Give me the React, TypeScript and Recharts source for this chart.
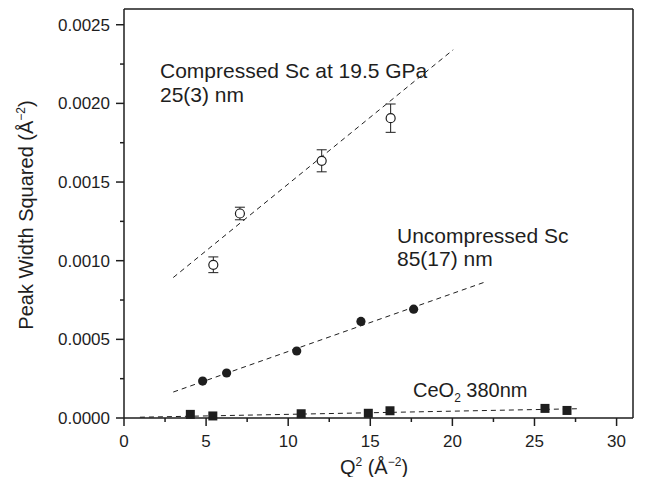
import {
  Customized,
  ErrorBar,
  ReferenceLine,
  Scatter,
  ScatterChart,
  XAxis,
  YAxis,
} from 'recharts';

const FONT = '"Liberation Sans", Arial, sans-serif';
const INK = '#1e1e1e';

// Q^2 (Å^-2) vs peak width squared (Å^-2)
const compressed = [
  { x: 5.44, y: 0.000974, err: 0.00005 },
  { x: 7.06, y: 0.0013, err: 0.00004 },
  { x: 12.04, y: 0.001635, err: 0.00007 },
  { x: 16.24, y: 0.001906, err: 0.00009 },
];

const uncompressed = [
  { x: 4.79, y: 0.000235 },
  { x: 6.25, y: 0.000286 },
  { x: 10.52, y: 0.000426 },
  { x: 14.43, y: 0.000614 },
  { x: 17.64, y: 0.000692 },
];

const ceo2 = [
  { x: 4.04, y: 0.000023 },
  { x: 5.41, y: 0.000013 },
  { x: 10.79, y: 0.000027 },
  { x: 14.88, y: 0.00003 },
  { x: 16.2, y: 0.000046 },
  { x: 25.64, y: 0.000061 },
  { x: 26.98, y: 0.000048 },
];

// fitted lines, end points
const compressedFit = [
  { x: 3.0, y: 0.000893 },
  { x: 20.05, y: 0.002341 },
];
const uncompressedFit = [
  { x: 3.0, y: 0.000165 },
  { x: 22.03, y: 0.000866 },
];
const ceo2Fit = [
  { x: 0.97, y: 0.000005 },
  { x: 27.7, y: 0.000059 },
];

const xDomain = [0, 31];
const yDomain = [0, 0.0026];
const xTicks = [0, 2.5, 5, 7.5, 10, 12.5, 15, 17.5, 20, 22.5, 25, 27.5, 30];
const yTicks = [
  0, 0.00025, 0.0005, 0.00075, 0.001, 0.00125, 0.0015, 0.00175, 0.002,
  0.00225, 0.0025,
];

const isMajor = (v: number, step: number) =>
  Math.abs(v / step - Math.round(v / step)) < 1e-6;

function XTick({ x, y, payload }: any) {
  const major = isMajor(payload.value, 5);
  return (
    <g>
      <line
        x1={x}
        x2={x}
        y1={y}
        y2={y + (major ? 8 : 4)}
        stroke={INK}
        strokeWidth={1.5}
      />
      {major && (
        <text
          x={x}
          y={y + 29}
          textAnchor="middle"
          fontSize={17}
          fontFamily={FONT}
          fill={INK}
        >
          {payload.value}
        </text>
      )}
    </g>
  );
}

function YTick({ x, y, payload }: any) {
  const major = isMajor(payload.value, 0.0005);
  return (
    <g>
      <line
        x1={x - (major ? 8 : 4)}
        x2={x}
        y1={y}
        y2={y}
        stroke={INK}
        strokeWidth={1.5}
      />
      {major && (
        <text
          x={x - 14}
          y={y + 6}
          textAnchor="end"
          fontSize={17}
          fontFamily={FONT}
          fill={INK}
        >
          {payload.value.toFixed(4)}
        </text>
      )}
    </g>
  );
}

const OpenCircle = (p: any) => (
  <circle cx={p.cx} cy={p.cy} r={4.5} fill="#fff" stroke={INK} strokeWidth={1.2} />
);
const FilledCircle = (p: any) => (
  <circle cx={p.cx} cy={p.cy} r={4.6} fill={INK} />
);
const Square = (p: any) => (
  <rect x={p.cx - 4.5} y={p.cy - 4.5} width={9} height={9} fill={INK} />
);
const NoShape = () => <g />;

function Annotations() {
  const t = { fontFamily: FONT, fill: INK };
  return (
    <g>
      <text x={160} y={77.5} fontSize={21} {...t}>
        Compressed Sc at 19.5 GPa
      </text>
      <text x={160} y={101.5} fontSize={21} {...t}>
        25(3) nm
      </text>
      <text x={397} y={243} fontSize={21} {...t}>
        Uncompressed Sc
      </text>
      <text x={397} y={266} fontSize={21} {...t}>
        85(17) nm
      </text>
      <text x={413} y={397} fontSize={20} {...t}>
        CeO
        <tspan dy={5} fontSize={12}>
          2
        </tspan>
        <tspan dy={-5}> 380nm</tspan>
      </text>
      <text
        x={33}
        y={215}
        transform="rotate(-90, 33, 215)"
        textAnchor="middle"
        fontSize={20}
        {...t}
      >
        Peak Width Squared (Å
        <tspan dy={-8} fontSize={12}>
          −2
        </tspan>
        <tspan dy={8}>)</tspan>
      </text>
      <text x={374} y={474} textAnchor="middle" fontSize={20} {...t}>
        Q
        <tspan dy={-8} fontSize={12}>
          2
        </tspan>
        <tspan dy={8}> (Å</tspan>
        <tspan dy={-8} fontSize={12}>
          −2
        </tspan>
        <tspan dy={8}>)</tspan>
      </text>
    </g>
  );
}

const fitLine = { stroke: INK, strokeWidth: 1, strokeDasharray: '5 4' };

export default function App() {
  return (
    <div style={{ position: 'absolute', left: 0, top: 0, background: '#fff' }}>
      <ScatterChart
        width={652}
        height={477}
        margin={{ top: 9, right: 19, bottom: 0, left: 0 }}
      >
        <XAxis
          type="number"
          dataKey="x"
          domain={xDomain}
          ticks={xTicks}
          interval={0}
          height={59}
          tickSize={0}
          tickMargin={0}
          tickLine={false}
          tick={<XTick />}
          axisLine={{ stroke: INK, strokeWidth: 1.5 }}
        />
        <YAxis
          type="number"
          dataKey="y"
          domain={yDomain}
          ticks={yTicks}
          interval={0}
          width={124}
          tickSize={0}
          tickMargin={0}
          tickLine={false}
          tick={<YTick />}
          axisLine={{ stroke: INK, strokeWidth: 1.5 }}
        />
        {/* frame: top and right edges */}
        <ReferenceLine
          y={yDomain[1]}
          stroke={INK}
          strokeWidth={1.5}
          ifOverflow="visible"
        />
        <ReferenceLine
          x={xDomain[1]}
          stroke={INK}
          strokeWidth={1.5}
          ifOverflow="visible"
        />
        <Scatter
          data={compressedFit}
          line={fitLine}
          shape={NoShape}
          isAnimationActive={false}
        />
        <Scatter
          data={uncompressedFit}
          line={fitLine}
          shape={NoShape}
          isAnimationActive={false}
        />
        <Scatter
          data={ceo2Fit}
          line={fitLine}
          shape={NoShape}
          isAnimationActive={false}
        />
        <Scatter data={compressed} shape={OpenCircle} isAnimationActive={false}>
          <ErrorBar
            dataKey="err"
            direction="y"
            width={5}
            stroke={INK}
            strokeWidth={1}
            isAnimationActive={false}
          />
        </Scatter>
        <Scatter
          data={uncompressed}
          shape={FilledCircle}
          isAnimationActive={false}
        />
        <Scatter data={ceo2} shape={Square} isAnimationActive={false} />
        <Customized component={Annotations} />
      </ScatterChart>
    </div>
  );
}
